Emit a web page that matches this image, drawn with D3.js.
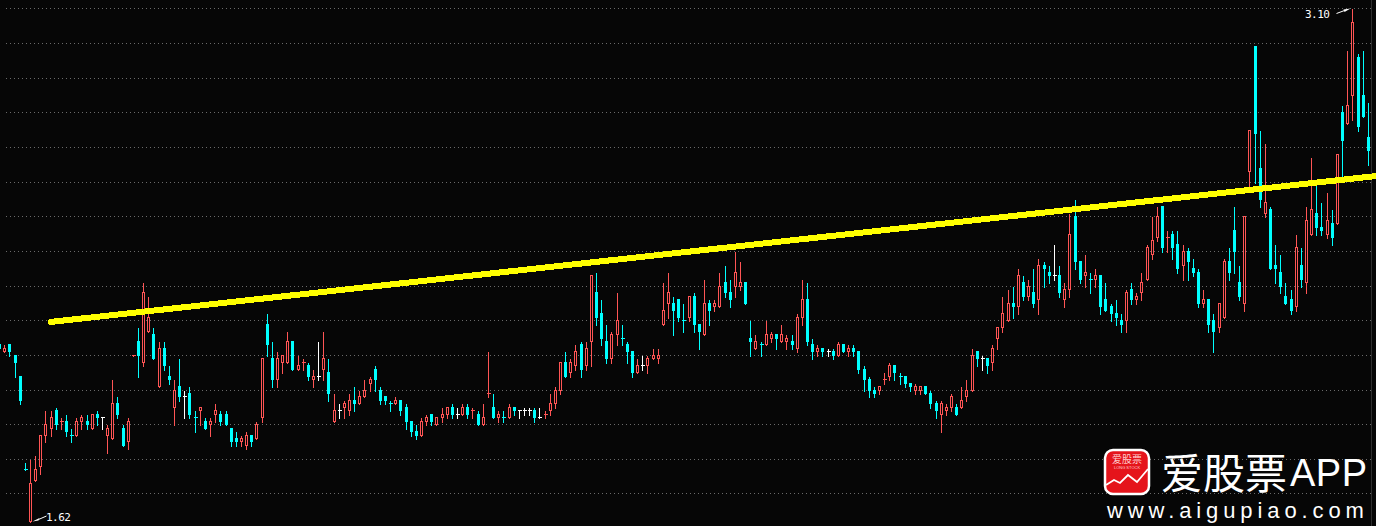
<!DOCTYPE html>
<html>
<head>
<meta charset="utf-8">
<script src="https://cdn.jsdelivr.net/npm/d3@7"></script>
<style>
    html, body { margin: 0; padding: 0; background: #060606; overflow: hidden; }
</style>
</head>
<body>
<div id="chart"></div>
<script>
// one row per 10 trading days. r = up, c = down, w = flat
const kinds = [
    "crccccrrrr", "rcrccrrcrc", "wrrccrrcrr", "crccrcwccr", "crrccccrrc",
    "rrccrrrcrr", "crwrcrwrrc", "rrrccccrcc", "ccrrcrrrcw", "rcrcrrcrcr",
    "cwwwcwrrrr", "crrcrrcccr", "rcccrwrrrr", "rcccrccrcr", "rccrrccrcr",
    "rcrrcrrccr", "cwcrcrcccc", "crrrccccrr", "cccrrrcrrr", "cwcrrrrcrc",
    "rcrccwcrrc", "crcrcccccr", "crrrrrcrcc", "rcccrccrrc", "ccrrccrccc",
    "ccrcrrccrc", "rcrrccc"
].join("").split("");

const highs = [
    2.14,2.13,2.13,2.10,2.04,1.79,1.80,1.81,1.87,1.94,
    1.94,1.95,1.92,1.93,1.89,1.92,1.93,1.93,1.93,1.94,
    1.92,1.90,2.03,1.98,1.90,1.92,2.10,2.18,2.31,2.27,
    2.18,2.14,2.14,2.07,2.03,2.09,2.00,2.01,1.94,1.95,
    1.92,1.92,1.96,1.94,1.94,1.89,1.88,1.87,1.88,1.87,
    1.91,2.09,2.22,2.14,2.11,2.10,2.17,2.14,2.10,2.09,
    2.08,2.06,2.14,2.17,2.09,1.99,1.96,1.97,1.99,2.01,
    2.00,2.03,2.04,2.07,2.01,1.98,1.97,1.98,1.97,1.96,
    1.91,1.90,1.92,1.93,1.93,1.92,1.95,1.95,1.96,1.95,
    1.96,1.96,1.95,1.94,1.96,2.11,1.99,1.94,1.94,1.96,
    1.95,1.94,1.95,1.95,1.95,1.95,1.94,1.99,2.01,2.08,
    2.11,2.09,2.13,2.14,2.14,2.33,2.34,2.26,2.19,2.17,
    2.28,2.19,2.14,2.11,2.09,2.10,2.10,2.12,2.12,2.31,
    2.34,2.27,2.26,2.25,2.27,2.28,2.19,2.32,2.26,2.26,
    2.34,2.36,2.32,2.40,2.37,2.31,2.20,2.16,2.14,2.20,
    2.17,2.16,2.19,2.16,2.16,2.22,2.32,2.31,2.15,2.13,
    2.12,2.12,2.12,2.14,2.13,2.13,2.13,2.11,2.07,2.04,
    2.01,2.01,2.05,2.08,2.07,2.05,2.04,2.02,2.02,2.01,
    2.01,2.00,1.97,1.97,1.96,1.99,1.96,2.01,2.03,2.12,
    2.11,2.10,2.09,2.13,2.18,2.27,2.29,2.30,2.35,2.33,
    2.32,2.35,2.38,2.37,2.36,2.42,2.36,2.31,2.51,2.55,
    2.37,2.39,2.34,2.35,2.33,2.31,2.25,2.26,2.22,2.29,
    2.31,2.28,2.34,2.42,2.50,2.53,2.53,2.46,2.46,2.46,
    2.42,2.41,2.38,2.35,2.29,2.26,2.22,2.25,2.38,2.41,
    2.53,2.36,2.50,2.75,2.99,2.75,2.71,2.53,2.42,2.39,
    2.31,2.29,2.45,2.41,2.53,2.67,2.59,2.54,2.57,2.52,
    2.68,2.82,2.98,3.10,2.97,2.98,2.83
];
const bodyTops = [
    2.13,2.12,2.13,2.10,2.04,1.77,1.73,1.77,1.87,1.90,
    1.92,1.94,1.91,1.91,1.87,1.91,1.92,1.91,1.93,1.93,
    1.92,1.89,1.96,1.96,1.89,1.91,2.10,2.14,2.28,2.21,
    2.16,2.12,2.12,2.04,2.00,2.01,1.98,1.99,1.92,1.95,
    1.91,1.91,1.94,1.93,1.93,1.89,1.86,1.86,1.87,1.87,
    1.90,2.09,2.19,2.09,2.09,2.10,2.14,2.14,2.07,2.08,
    2.07,2.04,2.04,2.09,2.05,1.94,1.94,1.96,1.97,1.97,
    1.98,2.00,2.03,2.06,2.00,1.98,1.96,1.97,1.97,1.95,
    1.91,1.88,1.91,1.92,1.93,1.92,1.93,1.95,1.95,1.93,
    1.95,1.95,1.94,1.93,1.92,1.99,1.95,1.93,1.92,1.95,
    1.95,1.94,1.94,1.94,1.94,1.92,1.93,1.96,2.00,2.08,
    2.08,2.08,2.11,2.13,2.12,2.33,2.28,2.22,2.14,2.16,
    2.20,2.15,2.13,2.11,2.07,2.07,2.09,2.10,2.10,2.23,
    2.28,2.25,2.26,2.20,2.27,2.27,2.19,2.25,2.25,2.25,
    2.30,2.31,2.28,2.34,2.31,2.31,2.15,2.14,2.13,2.16,
    2.16,2.16,2.16,2.15,2.14,2.21,2.26,2.26,2.13,2.12,
    2.12,2.11,2.11,2.13,2.13,2.12,2.12,2.11,2.06,2.03,
    2.00,2.01,2.03,2.07,2.07,2.04,2.04,2.02,2.01,2.01,
    2.01,1.99,1.96,1.96,1.95,1.98,1.95,1.97,2.00,2.10,
    2.11,2.09,2.09,2.12,2.18,2.22,2.25,2.25,2.33,2.31,
    2.30,2.28,2.36,2.36,2.34,2.33,2.33,2.29,2.45,2.50,
    2.37,2.34,2.32,2.33,2.33,2.26,2.24,2.22,2.20,2.28,
    2.29,2.27,2.31,2.41,2.43,2.50,2.53,2.44,2.45,2.42,
    2.40,2.40,2.35,2.34,2.26,2.26,2.20,2.25,2.37,2.37,
    2.46,2.31,2.50,2.75,2.99,2.64,2.54,2.52,2.36,2.34,
    2.27,2.26,2.41,2.36,2.49,2.52,2.51,2.47,2.49,2.48,
    2.68,2.80,2.82,3.06,2.96,2.85,2.73
];
const bodyBottoms = [
    2.12,2.11,2.11,2.08,1.97,1.77,1.62,1.74,1.78,1.87,
    1.89,1.90,1.91,1.88,1.87,1.87,1.91,1.90,1.89,1.92,
    1.92,1.87,1.86,1.93,1.84,1.85,2.10,2.10,2.08,2.17,
    2.09,2.01,2.07,2.03,1.95,1.98,1.98,1.93,1.92,1.94,
    1.89,1.90,1.93,1.91,1.90,1.85,1.85,1.85,1.84,1.85,
    1.86,1.92,2.13,2.03,2.03,2.08,2.08,2.06,2.06,2.08,
    2.04,2.03,2.04,2.06,1.99,1.91,1.94,1.95,1.94,1.96,
    1.96,1.98,2.02,2.03,1.97,1.97,1.96,1.96,1.94,1.91,
    1.88,1.87,1.87,1.91,1.91,1.90,1.92,1.93,1.93,1.93,
    1.93,1.93,1.94,1.90,1.90,1.99,1.92,1.92,1.92,1.92,
    1.94,1.94,1.94,1.94,1.92,1.92,1.93,1.94,1.96,2.00,
    2.04,2.05,2.07,2.06,2.07,2.14,2.21,2.15,2.09,2.09,
    2.16,2.15,2.11,2.05,2.05,2.07,2.07,2.09,2.09,2.19,
    2.25,2.23,2.21,2.20,2.21,2.19,2.17,2.16,2.23,2.24,
    2.24,2.28,2.26,2.30,2.30,2.25,2.14,2.12,2.13,2.13,
    2.15,2.15,2.14,2.14,2.13,2.12,2.21,2.14,2.11,2.11,
    2.11,2.11,2.10,2.10,2.11,2.11,2.11,2.06,2.03,2.00,
    1.99,2.00,2.03,2.04,2.05,2.04,2.02,2.01,2.00,2.00,
    1.99,1.96,1.94,1.93,1.94,1.95,1.93,1.95,1.98,2.00,
    2.09,2.09,2.07,2.08,2.15,2.18,2.20,2.24,2.24,2.27,
    2.27,2.25,2.26,2.35,2.33,2.33,2.28,2.26,2.29,2.37,
    2.32,2.33,2.32,2.32,2.24,2.23,2.22,2.21,2.19,2.20,
    2.26,2.26,2.28,2.32,2.39,2.44,2.41,2.44,2.41,2.35,
    2.36,2.37,2.34,2.25,2.25,2.19,2.17,2.18,2.21,2.34,
    2.40,2.27,2.25,2.63,2.74,2.55,2.51,2.35,2.35,2.30,
    2.25,2.23,2.24,2.32,2.31,2.45,2.47,2.46,2.45,2.44,
    2.48,2.72,2.77,2.85,2.76,2.79,2.69
];
const lows = [
    2.10,2.11,2.10,2.04,1.96,1.77,1.62,1.74,1.76,1.85,
    1.87,1.89,1.89,1.87,1.85,1.87,1.89,1.89,1.89,1.90,
    1.89,1.82,1.86,1.92,1.84,1.83,2.10,2.04,2.07,2.17,
    2.09,2.01,2.06,2.02,1.90,1.97,1.92,1.92,1.88,1.90,
    1.89,1.87,1.91,1.90,1.90,1.84,1.84,1.84,1.83,1.84,
    1.86,1.91,2.10,2.01,2.01,2.05,2.08,2.06,2.06,2.06,
    2.03,2.01,2.03,2.03,1.97,1.91,1.92,1.92,1.93,1.94,
    1.96,1.98,2.00,2.00,1.96,1.96,1.94,1.96,1.93,1.89,
    1.87,1.86,1.87,1.90,1.90,1.90,1.91,1.92,1.92,1.92,
    1.93,1.92,1.92,1.90,1.90,1.98,1.92,1.91,1.91,1.92,
    1.93,1.92,1.93,1.93,1.91,1.92,1.92,1.93,1.95,1.99,
    2.04,2.04,2.06,2.04,2.06,2.07,2.19,2.13,2.08,2.08,
    2.13,2.13,2.08,2.04,2.05,2.06,2.05,2.09,2.08,2.19,
    2.21,2.16,2.20,2.17,2.20,2.17,2.12,2.16,2.19,2.23,
    2.24,2.27,2.24,2.27,2.29,2.25,2.10,2.12,2.10,2.13,
    2.14,2.12,2.14,2.12,2.12,2.11,2.19,2.13,2.09,2.10,
    2.10,2.10,2.09,2.10,2.11,2.10,2.10,2.05,2.00,1.98,
    1.98,1.99,2.02,2.03,2.03,2.02,2.01,2.00,1.99,1.99,
    1.99,1.95,1.92,1.88,1.93,1.94,1.93,1.95,1.97,2.00,
    2.07,2.06,2.05,2.06,2.12,2.17,2.20,2.21,2.22,2.26,
    2.26,2.24,2.22,2.30,2.31,2.32,2.27,2.24,2.27,2.35,
    2.31,2.30,2.28,2.30,2.22,2.23,2.20,2.19,2.17,2.17,
    2.25,2.25,2.26,2.32,2.38,2.43,2.40,2.40,2.38,2.34,
    2.32,2.32,2.33,2.24,2.24,2.17,2.11,2.17,2.21,2.32,
    2.34,2.26,2.23,2.58,2.60,2.53,2.50,2.35,2.31,2.28,
    2.25,2.22,2.23,2.30,2.28,2.45,2.45,2.45,2.44,2.42,
    2.48,2.61,2.77,2.78,2.75,2.79,2.65
];
const gridLevels = [3.1,3.0,2.9,2.8,2.7,2.6,2.5,2.4,2.3,2.2,2.1,2.0,1.9,1.8,1.7];
const trendDays = [9.9, 267.5];
const trendPrices = [2.195, 2.616];
const lowMark = {day: 6, price: 1.62, label: "1.62"};
const highMark = {day: 263, price: 3.10, label: "3.10"};

const width = 1376, height = 526;
const bg = "#060606", upColor = "#ff5555", downColor = "#00ffff", flatColor = "#ffffff";

let svg = d3.select("#chart")
            .append("svg")
                .attr("width", width)
                .attr("height", height)
                .style("display", "block")
                .style("background", bg);

let x = d3.scaleLinear().domain([0, 266]).range([-0.4, 1368.3]);
let y = d3.scaleLinear().domain([1.62, 3.10]).range([521.2, 8.3]);

// snap to the pixel grid, the original is a bitmap
const px = i => Math.floor(x(i)) + 0.5;
const py = v => Math.round(y(v)) + 0.5;

// dotted grid
let grid = svg.append("g")
    .attr("transform", "translate(1371,0)")
    .call(d3.axisLeft(y).offset(0).tickValues(gridLevels).tickSize(1368).tickFormat(""));
grid.select(".domain").remove();
grid.selectAll("line")
    .attr("stroke", "#6a6a6a")
    .attr("stroke-dasharray", "1,3")
    .attr("shape-rendering", "crispEdges")
    .attr("y1", d => py(d) - y(d))
    .attr("y2", d => py(d) - y(d));

svg.append("line")
    .attr("x1", 1371.5).attr("x2", 1371.5)
    .attr("y1", 0).attr("y2", height)
    .attr("stroke", "#2e2e2e");

const days = d3.range(highs.length);
const colorOf = d => kinds[d] == "r" ? upColor : (kinds[d] == "c" ? downColor : flatColor);

let candles = svg.append("g").attr("shape-rendering", "crispEdges");

candles.selectAll("line.wick")
    .data(days)
    .join("line")
        .attr("class", "wick")
        .attr("x1", d => px(d)).attr("x2", d => px(d))
        .attr("y1", d => py(highs[d]))
        .attr("y2", d => py(lows[d]) + 1)
        .attr("stroke", d => colorOf(d));

// flat days are a short dash
candles.selectAll("line.flat")
    .data(days.filter(d => bodyTops[d] == bodyBottoms[d]))
    .join("line")
        .attr("class", "flat")
        .attr("x1", d => px(d) - 2).attr("x2", d => px(d) + 2)
        .attr("y1", d => py(bodyTops[d])).attr("y2", d => py(bodyTops[d]))
        .attr("stroke", d => colorOf(d));

// up days hollow, down days solid
candles.selectAll("rect.up")
    .data(days.filter(d => bodyTops[d] != bodyBottoms[d] && kinds[d] == "r"))
    .join("rect")
        .attr("class", "up")
        .attr("x", d => px(d) - 1)
        .attr("width", 2)
        .attr("y", d => py(bodyTops[d]))
        .attr("height", d => py(bodyBottoms[d]) - py(bodyTops[d]))
        .attr("fill", bg)
        .attr("stroke", upColor);

candles.selectAll("rect.down")
    .data(days.filter(d => bodyTops[d] != bodyBottoms[d] && kinds[d] != "r"))
    .join("rect")
        .attr("class", "down")
        .attr("x", d => px(d) - 1.5)
        .attr("width", 3)
        .attr("y", d => py(bodyTops[d]) - 0.5)
        .attr("height", d => py(bodyBottoms[d]) - py(bodyTops[d]) + 1)
        .attr("fill", downColor);

// trend line
svg.append("path")
    .attr("d", d3.line()(trendDays.map((d, i) => [x(d), y(trendPrices[i])])))
    .attr("fill", "none")
    .attr("stroke", "#ffff00")
    .attr("stroke-width", 6)
    .attr("stroke-linecap", "round")
    .attr("shape-rendering", "crispEdges");

// extreme price labels with their little arrows
function markPrice(mark, dir, textX, textY) {
    let ax = px(mark.day) - (dir > 0 ? -2 : 2), ay = py(mark.price);
    svg.append("path")
        .attr("d", "M" + ax + "," + ay +
                   "L" + (ax + dir * 7) + "," + (ay + (dir > 0 ? -3.5 : 1)) +
                   "L" + (ax + dir * 6) + "," + (ay + (dir > 0 ? -1 : 3.5)) + "Z")
        .attr("fill", "#fff");
    svg.append("line")
        .attr("x1", ax + dir * 6).attr("y1", ay + (dir > 0 ? -2 : 2))
        .attr("x2", ax + dir * 14).attr("y2", ay + (dir > 0 ? -5.5 : 5))
        .attr("stroke", "#fff");
    svg.append("text")
        .attr("x", textX).attr("y", textY)
        .attr("font-family", "'DejaVu Sans Mono'")
        .attr("font-size", 11)
        .attr("letter-spacing", -0.5)
        .attr("fill", "#fff")
        .text(mark.label);
}
markPrice(lowMark, 1, 46, 521);
markPrice(highMark, -1, 1305, 18);

// watermark
let logo = svg.append("g").attr("transform", "translate(1105,450)");
logo.append("rect")
    .attr("width", 44).attr("height", 44).attr("rx", 8)
    .attr("fill", "#e5141b").attr("stroke", "#fff").attr("stroke-width", 2.5);
logo.append("text")
    .attr("x", 22).attr("y", 13)
    .attr("text-anchor", "middle")
    .attr("font-family", "'Noto Sans CJK SC'")
    .attr("font-size", 10)
    .attr("fill", "#ffd0d0")
    .text("爱股票");
logo.append("text")
    .attr("x", 22).attr("y", 18.5)
    .attr("text-anchor", "middle")
    .attr("font-family", "'Liberation Sans'")
    .attr("font-size", 4)
    .attr("fill", "#ffd0d0")
    .text("LONG STOCK");
logo.append("path")
    .attr("d", d3.line()([[1, 35], [9, 30], [15, 33], [23, 25], [32, 32], [43, 19]]))
    .attr("fill", "none").attr("stroke", "#fff").attr("stroke-width", 1.8);

svg.append("text")
    .attr("x", 1161).attr("y", 489)
    .attr("font-family", "'Noto Sans CJK SC'")
    .attr("font-size", 42)
    .attr("fill", "#fff")
    .text("爱股票");
svg.append("text")
    .attr("x", 1290).attr("y", 486)
    .attr("font-family", "'Liberation Sans'")
    .attr("font-size", 38)
    .attr("letter-spacing", 0.5)
    .attr("fill", "#fff")
    .text("APP");
svg.append("text")
    .attr("x", 1107).attr("y", 518)
    .attr("font-family", "'Liberation Sans'")
    .attr("font-size", 22)
    .attr("letter-spacing", 4.9)
    .attr("fill", "#fff")
    .text("www.aigupiao.com");
</script>
</body>
</html>
